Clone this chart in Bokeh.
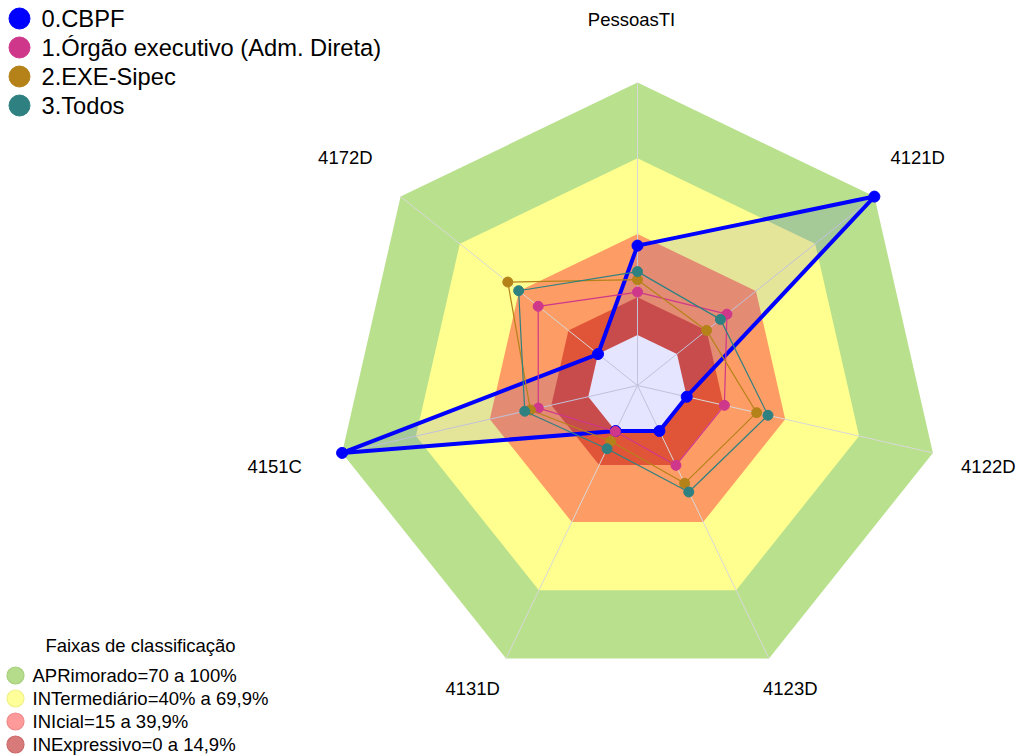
import numpy as np
from bokeh.plotting import figure
from bokeh.models import Range1d
from bokeh.core.properties import value
from bokeh.embed import file_html
from bokeh.resources import INLINE

# ---------------- data ----------------
axis_labels = ["PessoasTI", "4121D", "4122D", "4123D", "4131D", "4151C", "4172D"]
series_names = ["0.CBPF", "1.Órgão executivo (Adm. Direta)", "2.EXE-Sipec", "3.Todos"]
cbpf = [35.4, 100, 0, 0, 0, 100, 0]
orgao = [17.0, 25.3, 15.3, 15.1, 0.2, 20.3, 30.3]
sipec = [21.9, 15.0, 28.4, 23.0, 4.5, 23.5, 45.7]
todos = [25.1, 22.0, 33.0, 26.8, 7.8, 25.8, 40.2]
series_values = [cbpf, orgao, sipec, todos]
series_colors = ["#0000ff", "#cf378b", "#b5821a", "#2f8080"]

band_names = ["APRimorado=70 a 100%", "INTermediário=40% a 69,9%",
              "INIcial=15 a 39,9%", "INExpressivo=0 a 14,9%"]
band_limits = [100, 70, 40, 15]
band_colors = ["#b9e08d", "#ffff8f", "#fd9c64", "#e05538"]
band_legend_colors = ["#b5dc8a", "#ffff99", "#ff9a9a", "#d97a7a"]
band_legend_lines = ["#a6cf7c", "#f0f08a", "#ee8a8a", "#c86a6a"]

r_min, r_max = -20, 100

# ---------------- geometry ----------------
W, H = 1023, 756
cx_px, cy_px = 637, 385          # centre of radar in figure pixels
R = 303                          # pixel radius of r_max
n = len(axis_labels)
theta = np.pi / 2 - 2 * np.pi * np.arange(n) / n


def radius(v):
    return (np.asarray(v, dtype=float) - r_min) / (r_max - r_min) * R


def polar(vals):
    r = radius(vals)
    return list(r * np.cos(theta)), list(r * np.sin(theta))


p = figure(width=W, height=H, output_backend="svg", toolbar_location=None,
           x_range=Range1d(-cx_px, W - cx_px), y_range=Range1d(-(H - cy_px), cy_px),
           x_axis_type=None, y_axis_type=None, min_border=0)
p.grid.visible = False
p.outline_line_color = None
p.background_fill_color = "white"

# bands
for lim, col in zip(band_limits, band_colors):
    xs, ys = polar([lim] * n)
    p.patch(xs, ys, fill_color=col, line_color=None)
xs, ys = polar([0] * n)
p.patch(xs, ys, fill_color="white", line_color=None)

# spokes
for t in theta:
    p.line([0, R * np.cos(t)], [0, R * np.sin(t)], line_color="#d8d8d8", line_width=1)

# series
for i, (vals, col) in enumerate(zip(series_values, series_colors)):
    xs, ys = polar(vals)
    if i == 0:
        p.patch(xs, ys, fill_color=col, fill_alpha=0.1, line_color=col, line_width=4,
                line_join="round")
        p.scatter(xs, ys, size=11, fill_color=col, line_color=col)
    else:
        p.line(xs + [xs[0]], ys + [ys[0]], line_color=col, line_width=1.2)
        p.scatter(xs, ys, size=10, fill_color=col, line_color=col)

# axis labels
lr = 366
lx = [lr * np.cos(t) - 6 for t in theta]
ly = [(lr if np.sin(t) > -0.5 else 336) * np.sin(t) for t in theta]
p.text(lx, ly, text=axis_labels, text_font=value("Liberation Sans"),
       text_font_size="18.5px", text_align="center", text_baseline="middle",
       text_color="black")

# top-left legend (series)
leg_x0, leg_y0, leg_dy = -618, 367, -29
ly_series = [leg_y0 + k * leg_dy for k in range(len(series_names))]
p.scatter([leg_x0] * len(series_names), ly_series, size=21,
          fill_color=series_colors, line_color=series_colors)
p.text([leg_x0 + 22] * len(series_names), ly_series, text=series_names,
       text_font=value("Liberation Sans"), text_font_size="23.7px",
       text_align="left", text_baseline="middle", text_color="black")

# bottom-left legend (bands)
p.text([-497], [-260], text=["Faixas de classificação"],
       text_font=value("Liberation Sans"), text_font_size="18.5px",
       text_align="center", text_baseline="middle", text_color="black")
bx0, by0, bdy = -622, -290, -23
ly_band = [by0 + k * bdy for k in range(len(band_names))]
p.scatter([bx0] * len(band_names), ly_band, size=17,
          fill_color=band_legend_colors, line_color=band_legend_lines, line_width=1.2)
p.text([bx0 + 17] * len(band_names), ly_band, text=band_names,
       text_font=value("Liberation Sans"), text_font_size="18.5px",
       text_align="left", text_baseline="middle", text_color="black")

open("out.html", "w").write(file_html(p, INLINE))
